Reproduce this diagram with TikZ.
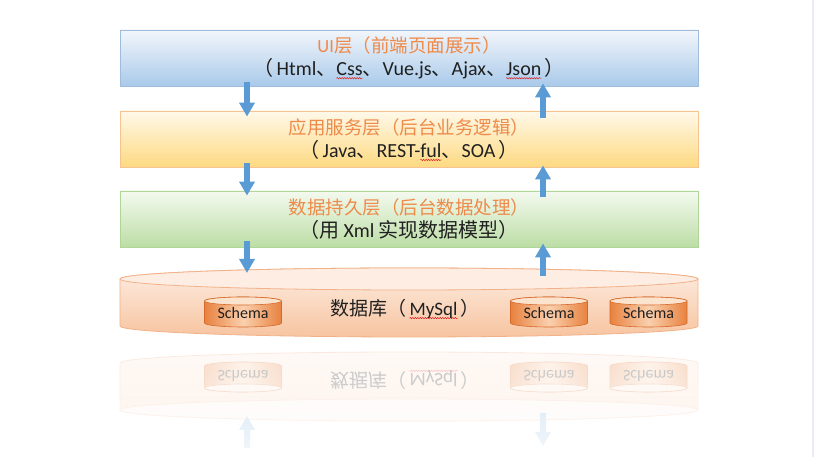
\documentclass[tikz,border=0pt]{standalone}
\usepackage{fontspec}
\setmainfont{Carlito}
\newfontfamily\cjk{Noto Sans CJK SC}
\usetikzlibrary{arrows.meta}
\usetikzlibrary{fadings}
\usetikzlibrary{decorations.pathmorphing}

\definecolor{uitop}{HTML}{F3F6FB}
\definecolor{uibot}{HTML}{A9CAEA}
\definecolor{uiline}{HTML}{9FBCDC}
\definecolor{apptop}{HTML}{FFF9EA}
\definecolor{appbot}{HTML}{FDD981}
\definecolor{appline}{HTML}{F5C490}
\definecolor{daotop}{HTML}{F4FAEF}
\definecolor{daobot}{HTML}{BCDDA5}
\definecolor{daoline}{HTML}{B0D598}
\definecolor{dbtop}{HTML}{FDEDE2}
\definecolor{dbbody}{HTML}{F7C4A0}
\definecolor{dbline}{HTML}{F2B188}
\definecolor{canside}{HTML}{E8823F}
\definecolor{canmid}{HTML}{FAD0AE}
\definecolor{canline}{HTML}{D5692A}
\definecolor{hdr}{HTML}{EE8A4A}
\definecolor{txt}{HTML}{202020}
\definecolor{flowblue}{HTML}{5B9BD5}
\definecolor{squig}{HTML}{E02020}
\definecolor{edge}{HTML}{ECECF4}

\newcommand\zh[1]{{\cjk #1}}
\newcommand\sub{\fontsize{20}{23}\selectfont}
% red spell-check wave under a word
\newsavebox\spellbox
\newcommand\spell[1]{\sbox\spellbox{#1}\rlap{\tikz[overlay,baseline=0pt]
  \draw[squig,line width=0.5pt,decorate,decoration={snake,amplitude=0.7pt,segment length=2.5pt}]
    (0pt,-2.5pt) -- (\the\wd\spellbox,-2.5pt);}\usebox\spellbox}

% #1 body style, #2 top style, #3 cx, #4 top y, #5 bottom y, #6 rx, #7 ry
\newcommand\drum[7]{%
  \path[#1] (#3-#6,#4) -- (#3-#6,#5)
    arc[start angle=180,end angle=360,x radius=#6,y radius=#7]
    -- (#3+#6,#4)
    arc[start angle=0,end angle=180,x radius=#6,y radius=#7] -- cycle;
  \path[#2] (#3,#4) ellipse[x radius=#6,y radius=#7];
}

% database with its schemas, #1 = name suffix
\newcommand\dbstack[1]{%
  \drum{draw=dbline,line width=0.8pt,top color=dbtop,bottom color=dbbody}{draw=dbline,line width=0.8pt,fill=dbtop}{409}{178}{131}{289}{11}
  \foreach \cx/\n in {243/a,549/b,648.5/c}
  {
    \drum{draw=canline,line width=0.6pt,left color=canside,right color=canside,middle color=canmid}{draw=canline,line width=0.6pt,fill=canmid!60!white}{\cx}{156}{134}{38.5}{4}
    \node[schema] (schema\n#1) at (\cx,144) {Schema};
  }
  \node[dblabel] (dblabel#1) at (405,148) {\zh{数据库（}\,\spell{MySql}\,\zh{）}};
}

\begin{document}
\begin{tikzpicture}[
    x=1pt, y=1pt,
    layer/.style={draw=#1line, line width=0.8pt, top color=#1top, bottom color=#1bot,
      minimum width=578pt, minimum height=56pt, inner sep=0pt,
      align=center, text=txt, font=\fontsize{18.5}{23}\selectfont},
    flow/.style={draw=flowblue, line width=6pt, -{Triangle[width=15pt,length=14pt]}},
    schema/.style={text=txt, font=\fontsize{16}{18}\selectfont, inner sep=0pt},
    dblabel/.style={text=txt, font=\fontsize{19}{22}\selectfont, inner sep=0pt},
]
    \useasboundingbox (0,0) rectangle (816,457);
    \draw[edge, line width=2pt] (813,0) -- (813,457);

    \coordinate (dn) at (247,0);
    \coordinate (up) at (543,0);

    \node[layer=ui] (ui) at (409,399)
      {\textcolor{hdr}{UI\zh{层（前端页面展示）}}\\
       {\sub\zh{（}\,Html\zh{、}\spell{Css}\zh{、}Vue.js\zh{、}Ajax\zh{、}\spell{Json}\,\zh{）}}};
    \node[layer=app] (app) at (409,318)
      {\textcolor{hdr}{\zh{应用服务层（后台业务逻辑）}}\\
       {\sub\zh{（}\,Java\zh{、}REST-\spell{ful}\zh{、}SOA\,\zh{）}}};
    \node[layer=dao] (dao) at (409,238)
      {\textcolor{hdr}{\zh{数据持久层（后台数据处理）}}\\
       {\sub\zh{（用 }Xml\zh{ 实现数据模型）}}};

    \dbstack{}
    \coordinate (db) at (409,178);

    % requests go down, results come back up
    \draw[flow] ([yshift=4pt]ui.south -| dn) -- ([yshift=-6pt]app.north -| dn);
    \draw[flow] ([yshift=4pt]app.south -| dn) -- ([yshift=-5pt]dao.north -| dn);
    \draw[flow] ([yshift=6pt]dao.south -| dn) -- ([yshift=6pt]db -| dn);
    \draw[flow] ([yshift=-7pt]app.north -| up) -- ([yshift=3pt]ui.south -| up);
    \draw[flow] ([yshift=-6pt]dao.north -| up) -- ([yshift=2pt]app.south -| up);
    \draw[flow] ([yshift=3pt]db -| up) -- ([yshift=4pt]dao.south -| up);

    % mirror image under the database
    \begin{scope}[transparency group, opacity=0.3, yshift=225pt, yscale=-1,
        every node/.append style={transform shape}]
      \dbstack{r}
      \coordinate (rdn1) at (247,216);
      \coordinate (rdn2) at (247,184);
      \coordinate (rup1) at (543,181);
      \coordinate (rup2) at (543,214);
      \draw[flow] (rdn1) -- (rdn2);
      \draw[flow] (rup1) -- (rup2);
    \end{scope}
    \fill[white, path fading=north] (100,-40) rectangle (720,113);
\end{tikzpicture}
\end{document}
